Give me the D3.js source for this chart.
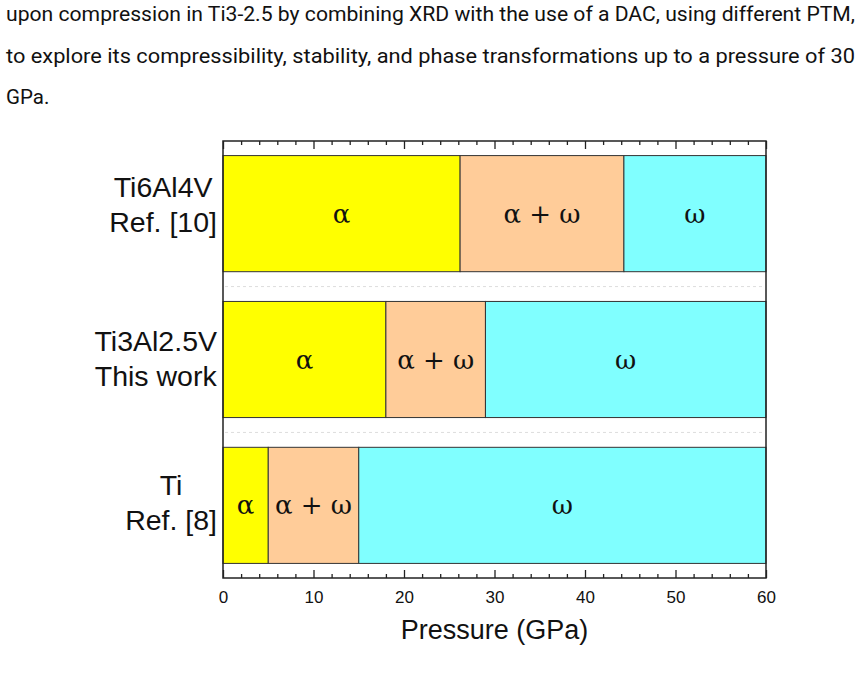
<!DOCTYPE html>
<html><head><meta charset="utf-8">
<script src="https://cdn.jsdelivr.net/npm/d3@7/dist/d3.min.js"></script>
<style>body{margin:0;background:#fff;}svg{display:block;}</style>
</head><body>
<svg id="c" width="862" height="684"></svg>
<script>
const paragraph = [
  "upon compression in Ti3-2.5 by combining XRD with the use of a DAC, using different PTM,",
  "to explore its compressibility, stability, and phase transformations up to a pressure of 30",
  "GPa."
];
const categories = ["Ti6Al4V", "Ti3Al2.5V", "Ti"];
const categoryLabels = [["Ti6Al4V", "Ref. [10]"], ["Ti3Al2.5V", "This work"], ["Ti", "Ref. [8]"]];
const phases = ["α", "α + ω", "ω"];
const phaseColors = ["#ffff00", "#ffcc99", "#80ffff"];
// phase boundaries in GPa: start of α, α→α+ω, α+ω→ω, end
const bounds_Ti6Al4V = [0, 26.2, 44.3, 60];
const bounds_Ti3Al25V = [0, 18, 29, 60];
const bounds_Ti = [0, 5, 15, 60];
const allBounds = [bounds_Ti6Al4V, bounds_Ti3Al25V, bounds_Ti];
const xTicks = [0, 10, 20, 30, 40, 50, 60];
const xMinorTicks = d3.range(0, 61, 2);

const svg = d3.select("#c");

// paragraph text
const widths = [849, 849, null];
paragraph.forEach((t, i) => {
  const el = svg.append("text").attr("x", 6).attr("y", 21 + i * 41.5)
    .attr("font-family", "Roboto, 'Noto Sans', sans-serif").attr("font-size", 20.5)
    .attr("fill", "#111").text(t);
  if (widths[i]) el.attr("textLength", widths[i]).attr("lengthAdjust", "spacingAndGlyphs");
});

const L = 223, R = 766, T = 141, B = 578;
const x = d3.scaleLinear().domain([0, 60]).range([L, R]);
const y = d3.scaleBand().domain(categories).range([T, B]).paddingInner(0.204).paddingOuter(0.1);

// dotted lines in gaps
for (let i = 0; i < categories.length - 1; i++) {
  const yy = (y(categories[i]) + y.bandwidth() + y(categories[i + 1])) / 2;
  svg.append("line").attr("x1", L + 2).attr("x2", R - 2).attr("y1", yy).attr("y2", yy)
    .attr("stroke", "#ddd").attr("stroke-width", 1).attr("stroke-dasharray", "3,3");
}

const labelOffsets = [-9, -1, -3];
// bars
categories.forEach((c, ci) => {
  const b = allBounds[ci];
  phases.forEach((p, pi) => {
    const x0 = x(b[pi]), x1 = x(b[pi + 1]);
    svg.append("rect").attr("x", x0).attr("y", y(c)).attr("width", x1 - x0).attr("height", y.bandwidth())
      .attr("fill", phaseColors[pi]).attr("stroke", "#333").attr("stroke-width", 1);
    svg.append("text").attr("x", (x0 + x1) / 2).attr("y", y(c) + y.bandwidth() / 2)
      .attr("text-anchor", "middle").attr("dominant-baseline", "central")
      .attr("font-family", "'DejaVu Serif', serif").attr("font-size", 26)
      .attr("fill", "#111").text(p);
  });
  // category labels (lines centred on each other, block right-aligned)
  const cy = y(c) + y.bandwidth() / 2 + labelOffsets[ci];
  const g = svg.append("g");
  const texts = categoryLabels[ci].map((t, li) =>
    g.append("text").attr("y", cy + (li - 0.5) * 35)
      .attr("text-anchor", "middle").attr("dominant-baseline", "central")
      .attr("font-family", "'Liberation Sans', Arial, sans-serif").attr("font-size", 28.5)
      .attr("fill", "#111").text(t));
  const maxW = d3.max(texts, t => t.node().getComputedTextLength());
  texts.forEach(t => t.attr("x", 217 - maxW / 2));
});

// frame
svg.append("rect").attr("x", L).attr("y", T).attr("width", R - L).attr("height", B - T)
  .attr("fill", "none").attr("stroke", "#222").attr("stroke-width", 1.5);

// ticks
const bottomMajor = d3.axisBottom(x).tickValues(xTicks).tickSize(-8).tickPadding(13).tickFormat(d3.format("d"));
const gB = svg.append("g").attr("transform", `translate(0,${B})`).call(bottomMajor);
gB.select(".domain").remove();
gB.selectAll("line").attr("stroke", "#222").attr("stroke-width", 1.3);
gB.selectAll("text").attr("font-family", "'Liberation Sans', Arial, sans-serif").attr("font-size", 17).attr("fill", "#111");
const bottomMinor = d3.axisBottom(x).tickValues(xMinorTicks.filter(v => v % 10)).tickSize(-4).tickFormat("");
const gBm = svg.append("g").attr("transform", `translate(0,${B})`).call(bottomMinor);
gBm.select(".domain").remove();
gBm.selectAll("line").attr("stroke", "#222").attr("stroke-width", 1.3);

const topMajor = d3.axisTop(x).tickValues(xTicks).tickSize(-8).tickFormat("");
const gT = svg.append("g").attr("transform", `translate(0,${T})`).call(topMajor);
gT.select(".domain").remove();
gT.selectAll("line").attr("stroke", "#222").attr("stroke-width", 1.3);
const topMinor = d3.axisTop(x).tickValues(xMinorTicks.filter(v => v % 10)).tickSize(-4).tickFormat("");
const gTm = svg.append("g").attr("transform", `translate(0,${T})`).call(topMinor);
gTm.select(".domain").remove();
gTm.selectAll("line").attr("stroke", "#222").attr("stroke-width", 1.3);

// axis title
svg.append("text").attr("x", (L + R) / 2).attr("y", 630).attr("text-anchor", "middle")
  .attr("dominant-baseline", "central")
  .attr("font-family", "'Liberation Sans', Arial, sans-serif").attr("font-size", 27)
  .attr("fill", "#111").text("Pressure (GPa)");
</script>
</body></html>
